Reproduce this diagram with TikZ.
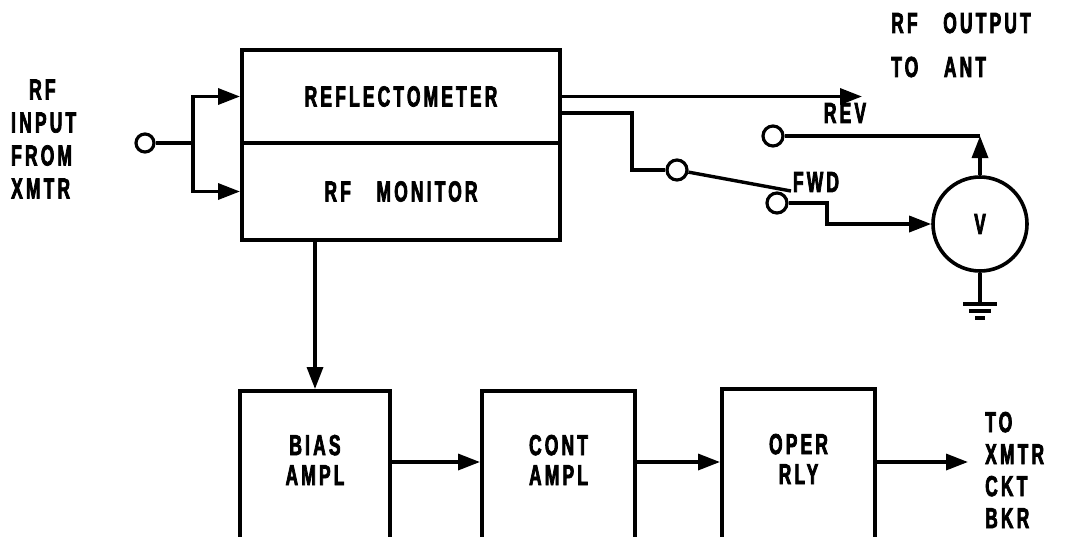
\documentclass[tikz,border=0pt]{standalone}
\usepackage{fontspec}
\newfontfamily\labfont{Liberation Sans Bold}[FakeStretch=0.6,LetterSpace=11,FakeBold=2.5,WordSpace=3.2]
\usetikzlibrary{arrows.meta}
\begin{document}
\begin{tikzpicture}[x=1pt,y=-1pt,
  lab/.style={font=\labfont\fontsize{29}{30}\selectfont, inner sep=0pt},
  wire/.style={line width=3.4pt},
  arr/.style={wire,-{Triangle[length=22pt,width=16pt]}},
  blk/.style={draw,line width=4pt,inner sep=0pt,lab},
  term/.style={circle,draw,line width=3.2pt,minimum size=18pt,inner sep=0pt}
]
\path[use as bounding box, clip] (0,0) rectangle (1067,536);
% top boxes
\node[blk,minimum width=318pt,minimum height=93pt] (refl) at (401,96.5) {REFLECTOMETER};
\node[blk,minimum width=318pt,minimum height=97pt] (rfmon) at (401,191.5) {RF MONITOR};
% bottom boxes
\node[blk,minimum width=150pt,minimum height=154pt,
  label={[lab,align=center,yshift=8pt]center:BIAS\\AMPL}] (bias) at (315,468) {};
\node[blk,minimum width=153pt,minimum height=154pt,
  label={[lab,align=center,yshift=8pt]center:CONT\\AMPL}] (cont) at (558.5,468) {};
\node[blk,minimum width=153pt,minimum height=156pt,
  label={[lab,align=center,yshift=8pt]center:OPER\\RLY}] (oper) at (798.5,467) {};
% input
\node[term] (inp) at (145,143) {};
\coordinate (j) at (193,143);
\draw[wire] (inp) -- (j);
\draw[arr] (j) |- (refl.west);
\draw[arr] (j) |- (rfmon.west);
\node[lab,anchor=west,align=left,font=\labfont\fontsize{29}{33}\selectfont] (rfin) at (11,139) {\hspace*{18pt}RF\\INPUT\\FROM\\XMTR};
% output
\coordinate (outend) at (862,96.5);
\draw[arr] (refl.east) -- (outend);
\node[lab,anchor=west,align=left,font=\labfont\fontsize{29}{44}\selectfont] (rfout) at (891,45) {RF OUTPUT\\TO ANT};
% switch
\node[term,minimum size=20pt] (sw) at (677,170) {};
\node[term,minimum size=20pt] (fwd) at (777,203) {};
\node[term,minimum size=20pt] (rev) at (773,136) {};
\draw[wire] (refl.east |- 0,113) -- (632,113) |- (sw);
\coordinate (blade) at (791,191);
\draw[wire] (sw) -- (blade);
\node[lab] (revl) at (845,113) {REV};
\node[lab] (fwdl) at (816,182) {FWD};
% voltmeter
\node[circle,draw,line width=3.6pt,minimum size=94pt,inner sep=0pt,lab] (V) at (980,224) {V};
\draw[arr] (fwd) -- (827,203) |- (V.west);
\coordinate (revc) at (V.north |- rev);
\draw[wire] (rev) -- (revc);
\draw[arr] (V.north) -- (revc);
% ground
\coordinate (g) at (980,304);
\draw[wire] (V.south) -- (g);
\draw[wire] ([xshift=-17pt]g) -- ([xshift=17pt]g);
\draw[wire] ([shift={(-11,7)}]g) -- ([shift={(11,7)}]g);
\draw[wire] ([shift={(-5,14)}]g) -- ([shift={(5,14)}]g);
% chain
\draw[arr] (bias.north |- rfmon.south) -- (bias.north);
\draw[arr] (bias.east |- 0,462) -- (cont.west |- 0,462);
\draw[arr] (cont.east |- 0,462) -- (oper.west |- 0,462);
\coordinate (tout) at (968,462);
\draw[arr] (oper.east |- tout) -- (tout);
\node[lab,anchor=west,align=left,font=\labfont\fontsize{29}{32}\selectfont] (tol) at (985,470) {TO\\XMTR\\CKT\\BKR};
\end{tikzpicture}
\end{document}
